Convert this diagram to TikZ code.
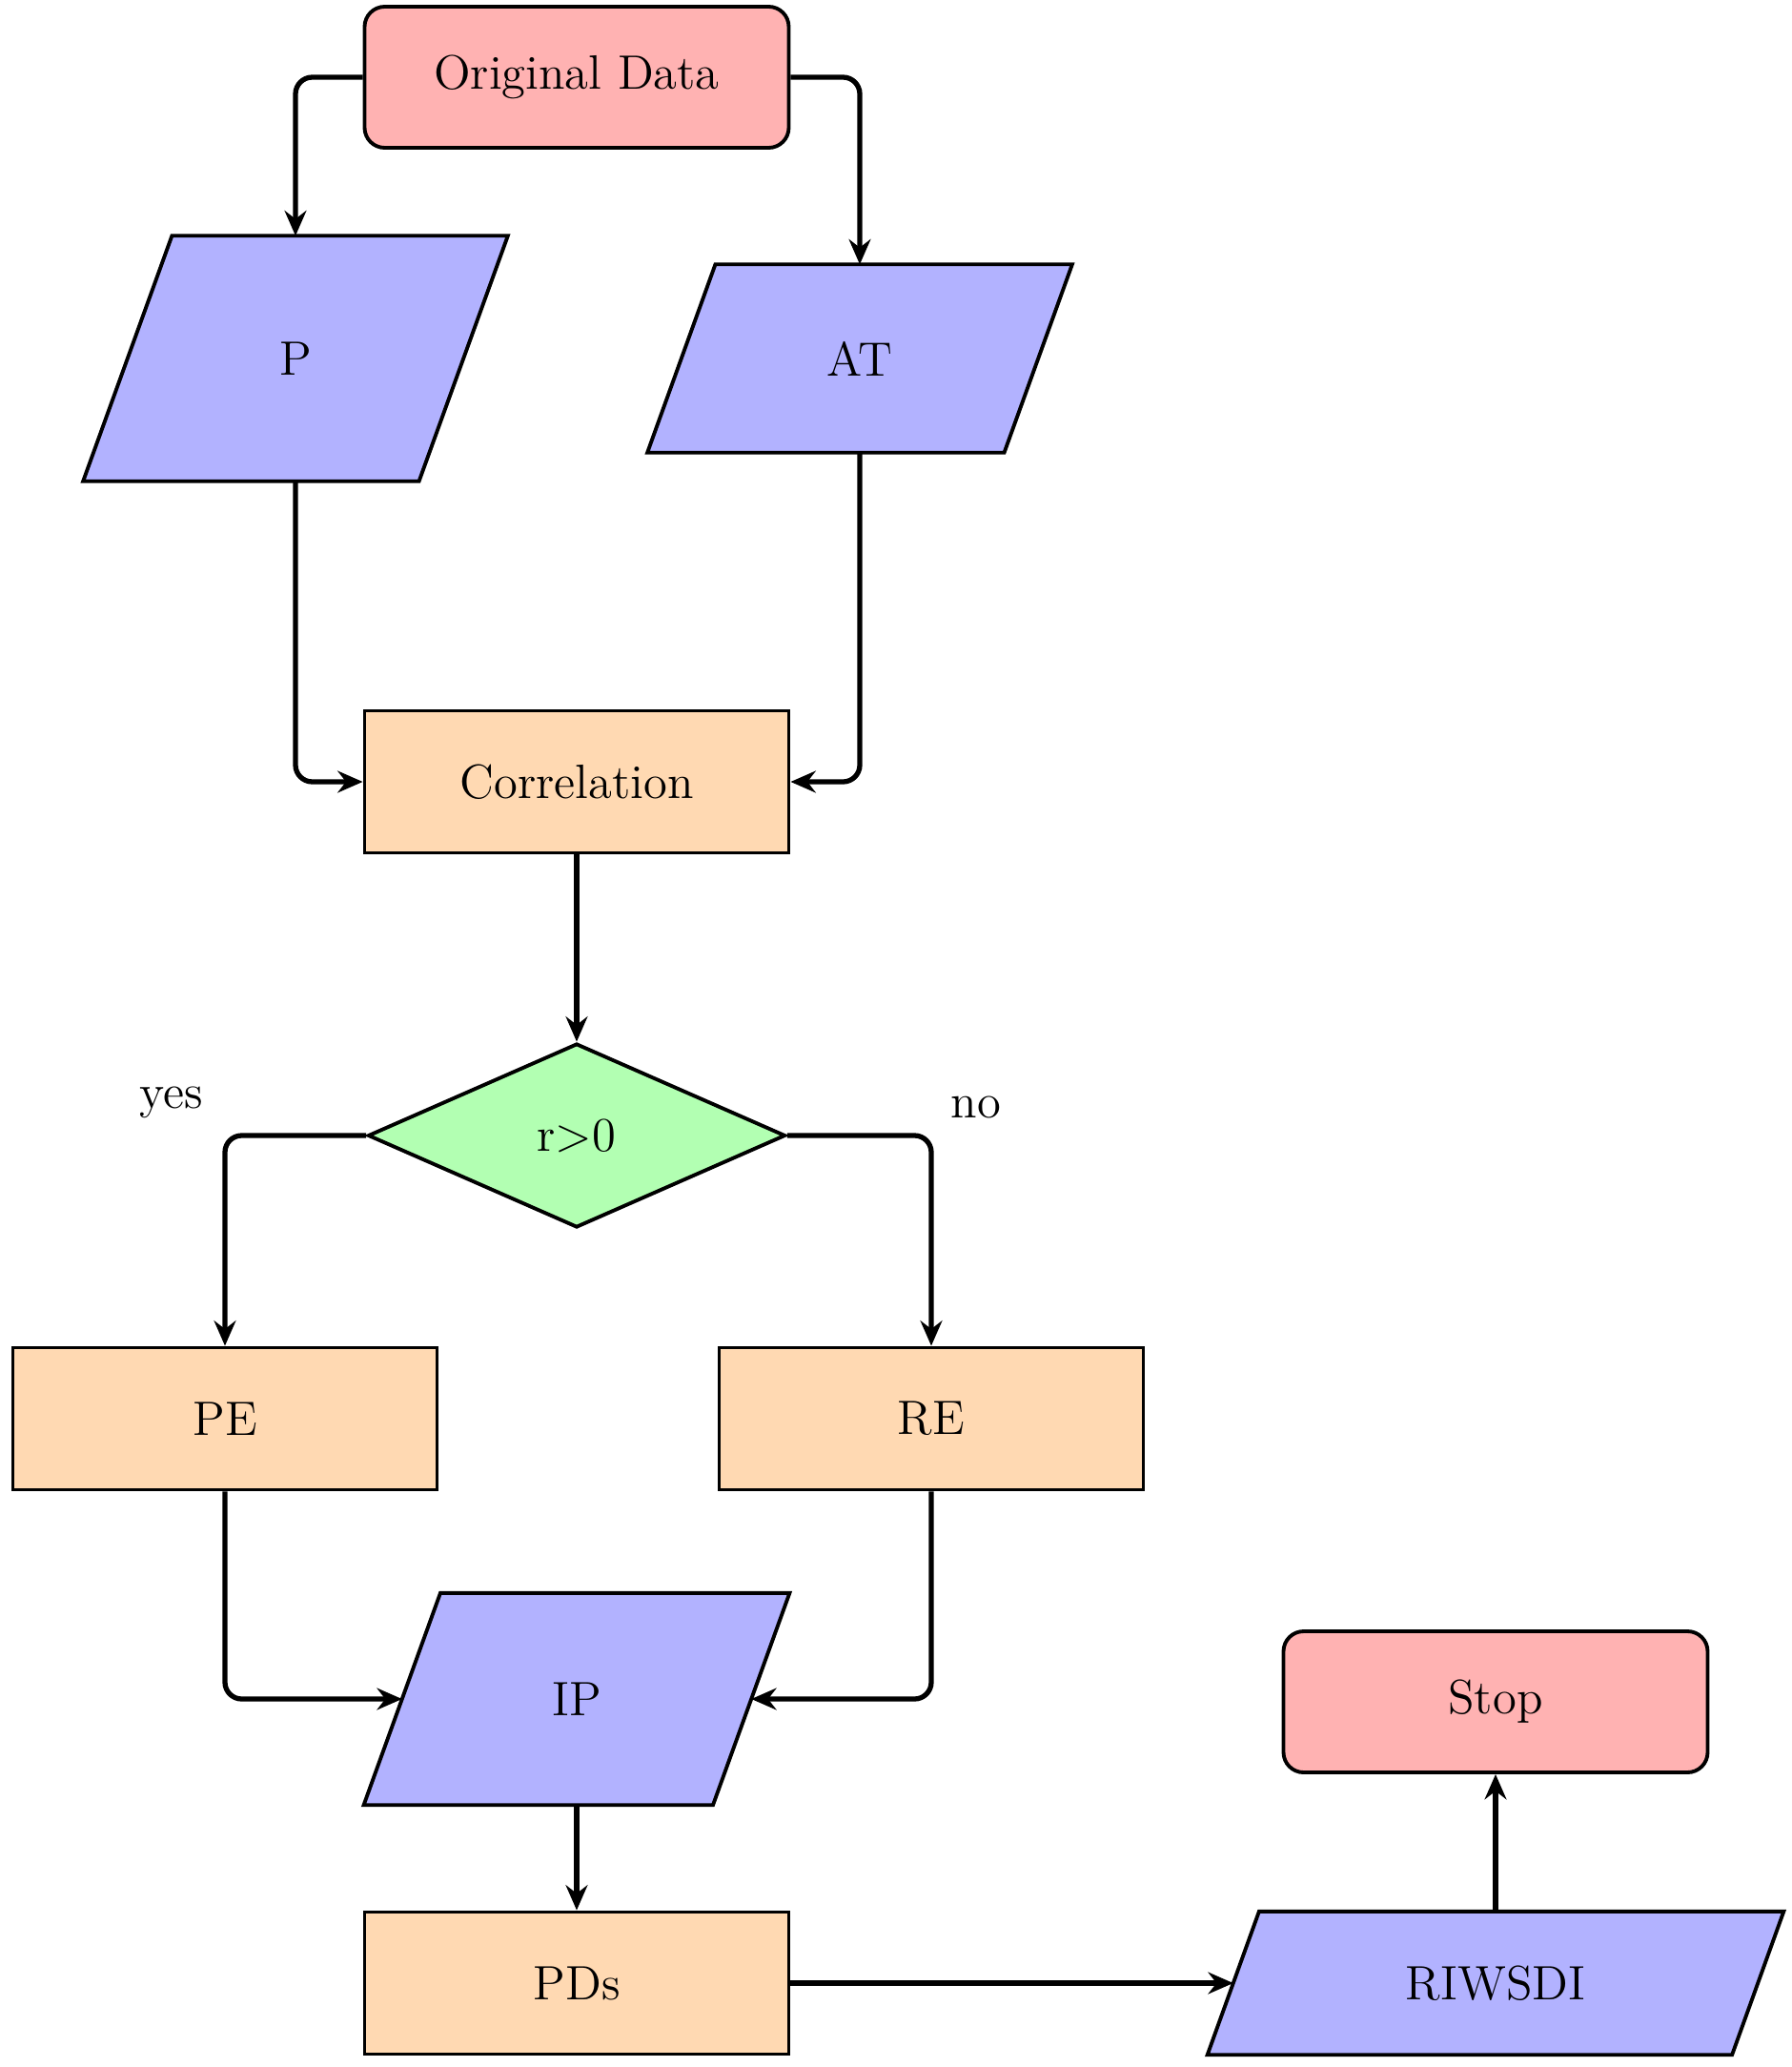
\documentclass[tikz,border=0pt]{standalone}
\usetikzlibrary{shapes.geometric,arrows.meta,backgrounds}
\newcommand\paral[2]{%
  \filldraw[line width=1.1pt, fill=blue!30, line join=miter]
    ([xshift=-#2/2]#1.south west) -- ([xshift=-#2/2]#1.south east) --
    ([xshift=#2/2]#1.north east) -- ([xshift=#2/2]#1.north west) -- cycle;}
\begin{document}
\begin{tikzpicture}[
  font=\Large,
  base/.style={draw, line width=1.1pt, inner sep=0pt, text=black},
  startstop/.style={base, rectangle, rounded corners=6pt, fill=red!30, minimum width=4.45cm, minimum height=1.48cm},
  process/.style={base, rectangle, fill=orange!30, minimum width=4.45cm, minimum height=1.49cm},
  io/.style={rectangle, inner sep=0pt, text=black},
  decision/.style={base, diamond, fill=green!30, minimum width=4.38cm, minimum height=1.93cm},
  arr/.style={line width=1.5pt, -{Stealth[length=7.5pt,width=6.5pt,inset=2.5pt]}, rounded corners=5pt},
  lbl/.style={inner sep=0pt}
]
\useasboundingbox (0,0) rectangle (18.8,-21.68);
\node[startstop] (orig) at (6.05,-0.81) {Original Data};
\node[io, minimum width=3.51cm, minimum height=2.56cm] (P) at (3.10,-3.76) {P};
\node[io, minimum width=3.73cm, minimum height=1.96cm] (AT) at (9.02,-3.76) {AT};
\node[process] (corr) at (6.05,-8.20) {Correlation};
\node[decision] (dec) at (6.05,-11.91) {r>0};
\node[lbl] (yes) at (1.80,-11.56) {yes};
\node[lbl] (no) at (10.24,-11.61) {no};
\node[process] (PE) at (2.36,-14.88) {PE};
\node[process] (RE) at (9.77,-14.88) {RE};
\node[io, minimum width=3.65cm, minimum height=2.21cm] (IP) at (6.05,-17.82) {IP};
\node[process] (PDs) at (6.05,-20.80) {PDs};
\node[startstop] (stop) at (15.69,-17.85) {Stop};
\node[io, minimum width=5.49cm, minimum height=1.49cm] (RI) at (15.69,-20.80) {RIWSDI};

\begin{scope}[on background layer]
\paral{P}{0.932cm}
\paral{AT}{0.713cm}
\paral{IP}{0.804cm}
\paral{RI}{0.542cm}
\end{scope}

\draw[arr] (orig.west) -| (P.north);
\draw[arr] (orig.east) -| (AT.north);
\draw[arr] (P.south) |- (corr.west);
\draw[arr] (AT.south) |- (corr.east);
\draw[arr] (corr.south) -- (dec.north);
\draw[arr] (dec.west) -| (PE.north);
\draw[arr] (dec.east) -| (RE.north);
\draw[arr] (PE.south) |- (IP.west);
\draw[arr] (RE.south) |- (IP.east);
\draw[arr] (IP.south) -- (PDs.north);
\draw[arr] (PDs.east) -- (RI.west);
\draw[arr] (RI.north) -- (stop.south);
\end{tikzpicture}
\end{document}
